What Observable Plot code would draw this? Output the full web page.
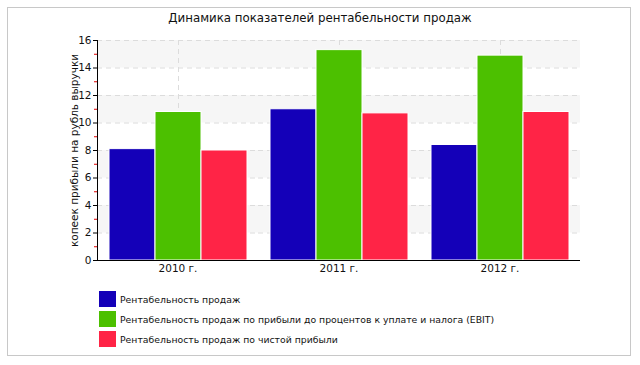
<!DOCTYPE html>
<html>
<head>
<meta charset="utf-8">
<script src="https://cdn.jsdelivr.net/npm/d3@7"></script>
<script src="https://cdn.jsdelivr.net/npm/@observablehq/plot@0.6"></script>
<style>
  html, body { margin: 0; padding: 0; background: #fff; width: 640px; height: 365px; overflow: hidden; font-family: "DejaVu Sans", sans-serif; }
  #box { position: absolute; left: 7px; top: 7px; width: 624px; height: 349px; border: 1px solid #c8c8c8; box-sizing: border-box; }
  #title { position: absolute; left: 0; top: 11px; width: 640px; text-align: center; font-size: 11.8px; color: #111; }
  #chart { position: absolute; left: 0; top: 30px; }
  #legend { position: absolute; left: 99px; top: 289px; font-size: 9.3px; color: #111; }
  .item { display: flex; align-items: center; height: 20px; }
  .sw { width: 17px; height: 16px; margin-right: 4px; }
</style>
</head>
<body>
<div id="box"></div>
<div id="title">Динамика показателей рентабельности продаж</div>
<div id="chart"></div>
<div id="legend"></div>
<script>
const years = ["2010 г.", "2011 г.", "2012 г."];
const series = [
  "Рентабельность продаж",
  "Рентабельность продаж по прибыли до процентов к уплате и налога (EBIT)",
  "Рентабельность продаж по чистой прибыли"
];
const colors = ["#1400b8", "#4cc000", "#ff2446"];
const salesMargin = [8.1, 11.0, 8.4];
const ebitMargin = [10.8, 15.3, 14.9];
const netMargin = [8.0, 10.7, 10.8];
const yTicks = [0, 2, 4, 6, 8, 10, 12, 14, 16];
const yMinorTicks = [1, 3, 5, 7, 9, 11, 13, 15];
const bandLows = [2, 6, 10, 14];
const yLabel = "копеек прибыли на рубль выручки";

const valuesBySeries = [salesMargin, ebitMargin, netMargin];
const data = years.flatMap((year, i) =>
  series.map((s, j) => ({ year, series: s, value: valuesBySeries[j][i] }))
);
const bands = bandLows.map(b => ({ y1: b, y2: b + 2 }));

const chart = Plot.plot({
  width: 640,
  height: 250,
  marginTop: 10,
  marginBottom: 20,
  marginLeft: 96,
  marginRight: 59,
  style: { fontFamily: "DejaVu Sans, sans-serif", fontSize: "10.5px", background: "transparent", color: "#111" },
  fx: { domain: years, padding: 0, axis: null, label: null },
  x: { domain: series, paddingInner: 0, paddingOuter: 0.22, axis: null },
  y: { domain: [0, 16], axis: null },
  color: { domain: series, range: colors },
  marks: [
    Plot.rectY(bands, { y1: "y1", y2: "y2", fill: "#f6f6f6" }),
    Plot.ruleY(yTicks, { stroke: "#dcdcdc", strokeDasharray: "5,4" }),
    Plot.ruleX(data.filter(d => d.series === series[1]), { fx: "year", x: "series", stroke: "#dcdcdc", strokeDasharray: "5,4" }),
    Plot.barY(data, { fx: "year", x: "series", y: "value", fill: "series", stroke: "white", strokeWidth: 1 }),
    Plot.ruleY([0], { stroke: "black", strokeWidth: 1.2 }),
    Plot.frame({ anchor: "left", facetAnchor: "left", stroke: "black" }),
    Plot.axisY({ ticks: yMinorTicks, tickSize: 3, tickFormat: () => "", stroke: "#e00000", facetAnchor: "left", label: null }),
    Plot.axisY({
      ticks: yTicks, tickSize: 4, tickPadding: 2, stroke: "black", facetAnchor: "left",
      label: yLabel, labelAnchor: "center", labelOffset: 27, labelArrow: "none", fontSize: 10.5
    }),
    Plot.axisFx({ anchor: "bottom", tickSize: 0, tickPadding: 4, label: null, fontSize: 10.5 })
  ]
});
document.getElementById("chart").appendChild(chart);

const legend = document.getElementById("legend");
series.forEach((s, i) => {
  const item = document.createElement("div");
  item.className = "item";
  const sw = document.createElement("div");
  sw.className = "sw";
  sw.style.background = colors[i];
  const t = document.createElement("span");
  t.textContent = s;
  item.appendChild(sw);
  item.appendChild(t);
  legend.appendChild(item);
});
</script>
</body>
</html>
